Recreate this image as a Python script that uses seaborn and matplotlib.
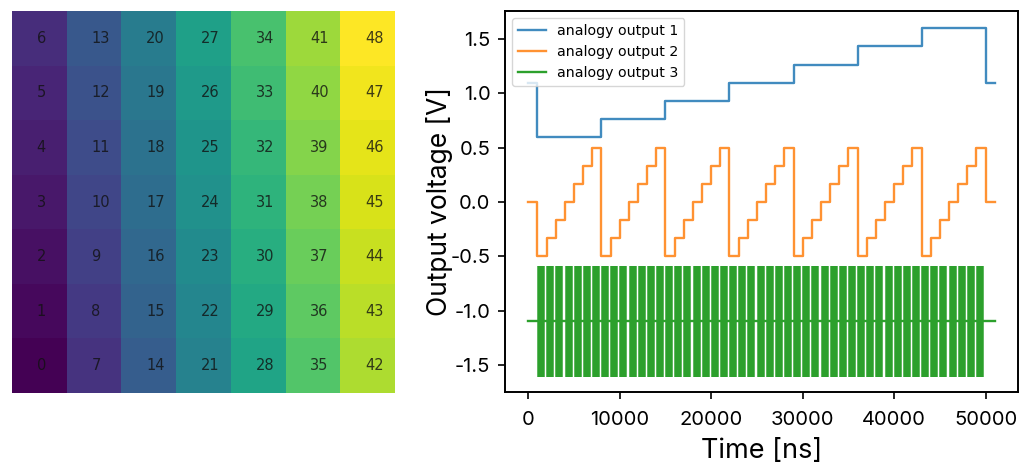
import pandas as pd
import seaborn as sns
import matplotlib.pyplot as plt

plt.rcParams['axes.unicode_minus'] = False

# pixel grid, numbered bottom-up per column
cell_ids = [
    [6, 13, 20, 27, 34, 41, 48],
    [5, 12, 19, 26, 33, 40, 47],
    [4, 11, 18, 25, 32, 39, 46],
    [3, 10, 17, 24, 31, 38, 45],
    [2, 9, 16, 23, 30, 37, 44],
    [1, 8, 15, 22, 29, 36, 43],
    [0, 7, 14, 21, 28, 35, 42],
]

# output 1: staircase (step times in ns, volts)
time_1 = [0, 1000, 8000, 15000, 22000, 29000, 36000, 43000, 50000, 51000]
volt_1 = [1.1, 0.6, 0.767, 0.933, 1.1, 1.267, 1.433, 1.6, 1.1, 1.1]

# output 2: sawtooth repeated every 7 us
time_2 = [0, 1000, 2000, 3000, 4000, 5000, 6000, 7000,
          8000, 9000, 10000, 11000, 12000, 13000, 14000,
          15000, 16000, 17000, 18000, 19000, 20000, 21000,
          22000, 23000, 24000, 25000, 26000, 27000, 28000,
          29000, 30000, 31000, 32000, 33000, 34000, 35000,
          36000, 37000, 38000, 39000, 40000, 41000, 42000,
          43000, 44000, 45000, 46000, 47000, 48000, 49000,
          50000, 51000]
volt_2 = [0, -0.5, -0.333, -0.167, 0, 0.167, 0.333, 0.5,
          -0.5, -0.333, -0.167, 0, 0.167, 0.333, 0.5,
          -0.5, -0.333, -0.167, 0, 0.167, 0.333, 0.5,
          -0.5, -0.333, -0.167, 0, 0.167, 0.333, 0.5,
          -0.5, -0.333, -0.167, 0, 0.167, 0.333, 0.5,
          -0.5, -0.333, -0.167, 0, 0.167, 0.333, 0.5,
          -0.5, -0.333, -0.167, 0, 0.167, 0.333, 0.5,
          0, 0]

# output 3: baseline plus one fast burst per us
time_3 = [0, 51000]
volt_3 = [-1.1, -1.1]
burst_centres = [1400, 2400, 3400, 4400, 5400, 6400, 7400, 8400, 9400, 10400,
                 11400, 12400, 13400, 14400, 15400, 16400, 17400, 18400, 19400, 20400,
                 21400, 22400, 23400, 24400, 25400, 26400, 27400, 28400, 29400, 30400,
                 31400, 32400, 33400, 34400, 35400, 36400, 37400, 38400, 39400, 40400,
                 41400, 42400, 43400, 44400, 45400, 46400, 47400, 48400, 49400]
burst_high = -0.585
burst_low = -1.61

x_ticks = [0, 10000, 20000, 30000, 40000, 50000]
y_ticks = [-1.5, -1.0, -0.5, 0.0, 0.5, 1.0, 1.5]

label_font = 'Inter'

fig = plt.figure(figsize=(10.24, 4.65), dpi=100)
ax_grid = fig.add_axes([12 / 1024, 1 - 393 / 465, 383 / 1024, 382 / 465])
ax_out = fig.add_axes([505 / 1024, 1 - 392 / 465, 513 / 1024, 381 / 465])

# left panel
sns.heatmap(pd.DataFrame(cell_ids), cmap='viridis', cbar=False, annot=True, fmt='d',
            annot_kws={'fontsize': 10.5, 'color': '#111111', 'alpha': 0.8},
            xticklabels=False, yticklabels=False, ax=ax_grid)
for t in ax_grid.texts:
    # numbers start near the cell centre rather than being centred on it
    x, y = t.get_position()
    t.set_position((x - 0.05, y))
    t.set_ha('left')

# right panel
df_1 = pd.DataFrame({'t': time_1, 'v': volt_1})
df_2 = pd.DataFrame({'t': time_2, 'v': volt_2})
df_3 = pd.DataFrame({'t': time_3, 'v': volt_3})
sns.lineplot(data=df_1, x='t', y='v', drawstyle='steps-post', estimator=None,
             color='tab:blue', lw=1.7, alpha=0.85, label='analogy output 1', ax=ax_out)
sns.lineplot(data=df_2, x='t', y='v', drawstyle='steps-post', estimator=None,
             color='tab:orange', lw=1.7, alpha=0.85, label='analogy output 2', ax=ax_out)
sns.lineplot(data=df_3, x='t', y='v', estimator=None,
             color='tab:green', lw=1.7, label='analogy output 3', ax=ax_out)
ax_out.vlines(burst_centres, burst_low, burst_high, color='tab:green', lw=5.4)

ax_out.set_xlim(-2550, 53550)
ax_out.set_ylim(-1.75, 1.76)
ax_out.set_xticks(x_ticks)
ax_out.set_yticks(y_ticks)
ax_out.set_xlabel('Time [ns]', fontsize=19.5, family=label_font, labelpad=6.5)
ax_out.set_ylabel('Output voltage [V]', fontsize=19, family=label_font, labelpad=-2)
ax_out.tick_params(labelsize=14.5, length=5, width=1.2, pad=5.5)
ax_out.tick_params(axis='x', pad=8.5)
for lab in ax_out.get_xticklabels() + ax_out.get_yticklabels():
    lab.set_family(label_font)
for s in ax_out.spines.values():
    s.set_linewidth(1.4)
ax_out.legend(loc='upper left', fontsize=10.2)

fig.savefig('out.png', dpi=100)
